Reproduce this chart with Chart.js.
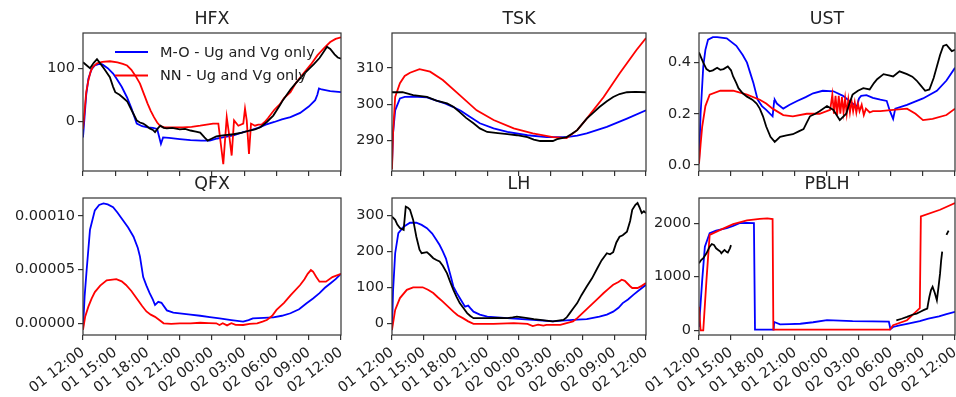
<!DOCTYPE html>
<html>
<head>
<meta charset="utf-8">
<script src="https://cdn.jsdelivr.net/npm/chart.js@4"></script>
<style>
  html, body { margin: 0; padding: 0; background: #fff; }
  #wrap { position: relative; width: 956px; height: 397px; overflow: hidden; }
  #wrap canvas { position: absolute; left: 0; top: 0; }
</style>
</head>
<body>
<div id="wrap"></div>
<script>
// time axis: hours after 01 12:00
const X_TICKS = [0, 3, 6, 9, 12, 15, 18, 21, 24];
const X_LABELS = ['01 12:00', '01 15:00', '01 18:00', '01 21:00', '02 00:00', '02 03:00', '02 06:00', '02 09:00', '02 12:00'];

// each series is [hour, value]
const HFX_MO = [[0,-30],[0.15,10],[0.3,50],[0.5,80],[0.8,98],[1.1,105],[1.5,108],[1.8,107],[2.3,100],[2.8,90],[3.1,81],[3.6,65],[4.1,45],[4.5,25],[5.0,-4],[5.5,-9],[6.0,-11],[6.5,-12],[6.9,-14],[7.1,-30],[7.25,-42],[7.45,-30],[8.0,-31],[9.0,-33],[10.0,-35],[11.0,-36],[11.8,-36],[12.5,-32],[13.0,-30],[14.0,-26],[14.9,-20],[15.5,-17],[16.3,-12],[17.0,-6],[17.8,-1],[18.5,4],[19.3,8],[20.2,16],[21.0,28],[21.6,40],[21.8,50],[21.95,62],[22.2,60],[23.0,57],[24,55]];
const HFX_NN = [[0,-14],[0.15,20],[0.3,55],[0.5,77],[0.7,93],[0.9,102],[1.3,109],[1.8,112],[2.5,113],[3.2,111],[3.7,108],[4.1,105],[4.5,97],[4.9,85],[5.3,71],[5.6,55],[6.0,34],[6.3,20],[6.6,8],[6.9,-2],[7.2,-9],[7.6,-11],[8.5,-11],[9.3,-11],[10.1,-10],[10.9,-8],[11.5,-6],[12.1,-4],[12.59,-4],[13.05,-80],[13.37,8],[13.58,-23],[13.83,-64],[14.05,2],[14.45,-8],[14.91,-4],[15.07,24],[15.23,2],[15.44,-61],[15.63,-4],[16.0,-8],[16.3,-6],[16.6,-6],[16.9,-1],[17.2,6],[17.5,14],[17.8,22],[18.3,32],[18.7,44],[19.3,55],[19.8,72],[20.5,90],[21.2,107],[21.8,124],[22.4,137],[23.0,149],[23.5,155],[24,158]];
const HFX_OBS = [[0,111],[0.3,106],[0.65,100],[1.0,110],[1.3,117],[1.6,109],[2.0,98],[2.5,83],[2.8,65],[3.0,55],[3.4,50],[3.7,45],[4.1,38],[4.4,26],[4.7,14],[5.0,2],[5.3,-2],[5.6,-4],[5.9,-8],[6.2,-13],[6.5,-16],[6.7,-20],[7.0,-12],[7.2,-8],[7.5,-12],[7.8,-13],[8.3,-12],[9.0,-15],[9.5,-14],[10.0,-17],[10.5,-19],[10.9,-21],[11.3,-30],[11.6,-36],[11.9,-33],[12.4,-28],[13.0,-26],[14.0,-24],[14.8,-21],[15.5,-17],[16.0,-15],[16.5,-11],[17.1,-1],[17.7,11],[18.3,30],[18.6,40],[19.3,60],[19.8,72],[20.2,81],[20.7,92],[21.1,100],[21.5,108],[22.0,119],[22.3,128],[22.7,140],[23.0,136],[23.4,126],[23.7,120],[24,118]];
const HFX_RANGE = [-93, 166];
const HFX_TICKS = [0, 100];
const HFX_TICK_LABELS = ['0', '100'];

const TSK_MO = [[0,283],[0.1,292],[0.3,298.3],[0.75,301.6],[1.2,302],[2,302.1],[3.3,301.9],[4.2,301],[5,300.2],[5.8,299.2],[6.5,298.2],[7.1,297],[8.3,294.7],[9.6,293.3],[10.9,292.3],[12.8,291.4],[14.6,290.9],[16.5,290.9],[17.5,291.3],[18.4,291.9],[20.3,293.7],[22.2,296],[24,298.3]];
const TSK_NN = [[0,282],[0.1,292],[0.3,302],[0.75,305.8],[1.2,307.8],[1.7,308.7],[2.6,309.7],[3.6,309],[4.8,306.7],[6.4,302.5],[8,298.3],[9.6,295.6],[11.5,293.3],[13.3,291.9],[15.2,290.9],[16.5,290.6],[17.5,292.8],[18.4,296],[20,302],[21.5,308.5],[23.1,315],[24,318.3]];
const TSK_OBS = [[0,303.3],[1,303.3],[2,302.5],[3.3,302],[4.2,301],[5.2,300.2],[5.8,299.3],[6.4,297.8],[7.0,296.2],[7.7,294.7],[8.3,293.3],[9,292.3],[10,292],[10.9,291.7],[11.8,291.4],[12.8,290.9],[13.4,290.2],[14,289.8],[14.6,289.8],[15.2,289.8],[15.6,290.3],[16.5,290.9],[17.0,291.8],[17.5,292.8],[18.4,296],[19,297.6],[19.6,299.2],[20.3,300.8],[20.9,302],[21.5,302.8],[22.2,303.3],[23,303.4],[24,303.3]];
const TSK_RANGE = [281.5, 319.7];
const TSK_TICKS = [290, 300, 310];
const TSK_TICK_LABELS = ['290', '300', '310'];

const UST_MO = [[0,0.005],[0.15,0.2],[0.4,0.385],[0.6,0.45],[0.85,0.49],[1.3,0.5],[1.7,0.5],[2.6,0.495],[3.5,0.466],[4.1,0.43],[4.5,0.40],[4.8,0.36],[5.1,0.32],[5.5,0.255],[5.9,0.23],[6.3,0.215],[6.9,0.19],[7.05,0.25],[7.1,0.255],[7.3,0.24],[7.9,0.22],[8.5,0.235],[9.2,0.25],[10.0,0.265],[10.7,0.28],[11.6,0.29],[12.6,0.288],[13.5,0.27],[14.4,0.24],[14.8,0.228],[15.0,0.26],[15.2,0.27],[15.7,0.273],[16.3,0.262],[17.0,0.255],[17.6,0.25],[17.9,0.21],[18.2,0.18],[18.4,0.22],[19.5,0.235],[21,0.26],[22.3,0.29],[23.2,0.33],[24,0.38]];
const UST_NN = [[0,0.005],[0.15,0.08],[0.3,0.15],[0.6,0.23],[1,0.275],[2,0.29],[3.2,0.29],[4.5,0.275],[5.7,0.255],[6.3,0.24],[6.9,0.22],[7.9,0.195],[8.8,0.19],[10.1,0.20],[11.3,0.20],[12.3,0.215],[12.5,0.275],[12.65,0.2],[12.8,0.27],[12.95,0.195],[13.1,0.27],[13.25,0.2],[13.4,0.265],[13.55,0.205],[13.7,0.26],[13.85,0.2],[14.0,0.255],[14.15,0.205],[14.3,0.25],[14.45,0.21],[14.6,0.245],[14.75,0.205],[14.9,0.24],[15.05,0.21],[15.25,0.235],[15.45,0.195],[15.65,0.22],[16.0,0.205],[16.3,0.21],[17,0.21],[18.2,0.215],[19.5,0.22],[20.3,0.2],[21,0.175],[21.9,0.18],[23.2,0.195],[24,0.22]];
const UST_OBS = [[0,0.44],[0.2,0.42],[0.4,0.40],[0.7,0.375],[1,0.366],[1.3,0.37],[1.7,0.38],[2.0,0.372],[2.3,0.375],[2.7,0.385],[3.0,0.37],[3.2,0.346],[3.5,0.32],[3.7,0.30],[4.1,0.28],[4.5,0.267],[5.0,0.255],[5.4,0.24],[5.7,0.22],[6,0.19],[6.3,0.15],[6.7,0.11],[7.1,0.09],[7.6,0.11],[8.2,0.115],[8.8,0.12],[9.3,0.13],[9.8,0.14],[10.1,0.165],[10.4,0.19],[10.9,0.2],[11.3,0.21],[12,0.23],[12.6,0.215],[13.2,0.175],[13.8,0.2],[14.1,0.24],[14.4,0.275],[14.9,0.29],[15.4,0.30],[16,0.295],[16.4,0.32],[16.7,0.335],[17.3,0.355],[17.8,0.35],[18.2,0.346],[18.8,0.366],[19.5,0.355],[20,0.345],[20.4,0.33],[20.8,0.31],[21.2,0.29],[21.6,0.295],[22.0,0.34],[22.3,0.385],[22.6,0.43],[22.9,0.465],[23.2,0.47],[23.5,0.455],[23.7,0.445],[24,0.45]];
const UST_RANGE = [-0.024, 0.516];
const UST_TICKS = [0, 0.2, 0.4];
const UST_TICK_LABELS = ['0.0', '0.2', '0.4'];

// QFX series, ticks and range are in units of 1e-5
const QFX_MO = [[0,-0.56],[0.15,2.5],[0.34,4.95],[0.65,8.7],[1.1,10.5],[1.5,11.0],[1.9,11.15],[2.3,11.05],[2.8,10.8],[3.2,10.3],[3.7,9.6],[4.2,8.9],[4.7,8.05],[5.1,7.0],[5.3,6.2],[5.6,4.3],[5.9,3.5],[6.2,2.8],[6.5,2.2],[6.7,1.7],[6.9,1.9],[7.0,2.0],[7.3,1.9],[7.8,1.2],[8.4,1.0],[9,0.93],[10,0.8],[10.9,0.7],[11.8,0.58],[12.7,0.46],[13.8,0.3],[14.9,0.15],[15.4,0.3],[15.8,0.46],[16.8,0.5],[17.7,0.55],[18.5,0.7],[19.3,0.93],[20.1,1.3],[20.8,1.86],[21.4,2.3],[22,2.8],[22.5,3.3],[23,3.7],[23.5,4.1],[24,4.6]];
const QFX_NN = [[0,-0.6],[0.2,0.6],[0.5,1.55],[0.8,2.3],[1.1,2.9],[1.6,3.5],[2.2,4.0],[3.1,4.1],[3.6,3.9],[4,3.56],[4.5,3.0],[5,2.3],[5.5,1.6],[5.9,1.1],[6.3,0.8],[6.7,0.6],[7.1,0.3],[7.5,0],[8.2,-0.05],[9,0],[10,0],[10.9,0.05],[11.7,0.02],[12.4,0],[12.7,-0.16],[13,0],[13.4,-0.2],[13.8,0],[14.2,-0.15],[14.9,-0.16],[15.5,-0.05],[16.2,0],[16.7,0.15],[17.1,0.3],[17.6,0.7],[18,1.24],[18.7,1.9],[19.3,2.6],[20.2,3.56],[20.6,4.1],[20.9,4.6],[21.2,4.95],[21.4,4.8],[21.7,4.3],[22,3.87],[22.6,3.87],[23.2,4.3],[24,4.6]];
const QFX_OBS = [];
const QFX_RANGE = [-1.09, 11.65];
const QFX_TICKS = [0, 5, 10];
const QFX_TICK_LABELS = ['0.00000', '0.00005', '0.00010'];

const LH_MO = [[0,-20],[0.1,90],[0.3,195],[0.6,251],[1.1,269],[1.7,280],[2.3,280],[2.8,274],[3.3,265],[3.8,250],[4.2,232],[4.5,218],[4.8,200],[5.1,180],[5.3,158],[5.6,125],[5.8,102],[6.1,85],[6.4,70],[6.9,46],[7.2,49],[7.4,42],[7.7,32],[8.3,24],[9,18],[10.9,14],[13.3,9],[15.2,5],[17.1,9],[18.4,11],[19.6,18],[20.3,24],[20.9,32],[21.4,43],[21.8,56],[22.3,66],[22.8,79],[23.4,93],[24,107]];
const LH_NN = [[0,-19],[0.3,37],[0.75,70],[1.4,93],[2,100],[2.9,100],[3.4,93],[3.9,84],[4.3,73],[4.8,60],[5.3,46],[5.8,32],[6.2,22],[6.7,14],[7.2,5],[7.7,-2],[8.6,-2],[9.6,-2],[11.5,0],[12.8,-2],[13.3,-8],[13.8,-4],[14.3,-7],[14.6,-5],[15.2,-5],[15.9,-5],[16.5,0],[17.1,5],[17.5,14],[18,28],[18.5,42],[19,56],[19.5,70],[20,84],[20.5,97],[20.9,107],[21.4,115],[21.7,121],[22.0,118],[22.2,112],[22.5,103],[22.7,98],[23.2,98],[23.6,104],[24,112]];
const LH_OBS = [[0,297],[0.3,288],[0.5,275],[0.75,265],[1.1,260],[1.3,325],[1.5,322],[1.7,316],[2,288],[2.3,241],[2.6,205],[2.8,195],[3.3,198],[3.6,190],[3.9,181],[4.2,176],[4.5,172],[4.8,160],[5.2,139],[5.5,115],[5.8,93],[6.1,73],[6.4,56],[6.8,40],[7.1,28],[7.4,20],[7.7,14],[8.5,14],[9,14],[10,15],[10.9,14],[11.4,16],[11.8,18],[12.3,16],[12.8,14],[13.4,11],[14,9],[14.6,7],[15.2,5],[15.7,7],[16.2,9],[16.5,16],[16.8,28],[17.1,40],[17.5,56],[17.9,78],[18.4,102],[18.9,125],[19.4,153],[19.8,175],[20.3,195],[20.6,192],[20.9,198],[21.2,225],[21.5,241],[21.8,245],[22.2,255],[22.5,285],[22.7,316],[23.0,330],[23.2,335],[23.4,322],[23.6,307],[23.8,312],[24,307]];
const LH_RANGE = [-33, 349];
const LH_TICKS = [0, 100, 200, 300];
const LH_TICK_LABELS = ['0', '100', '200', '300'];

const PBLH_MO = [[0,62],[0.15,500],[0.3,937],[0.55,1562],[1,1812],[1.6,1860],[2.6,1906],[3.2,1950],[3.8,2000],[4.5,2005],[5.15,2000],[5.25,13],[6,13],[7.0,13],[7.05,156],[7.6,112],[8.5,115],[9.5,122],[10.7,150],[12,190],[13.2,180],[14.4,170],[16.3,165],[17.8,160],[17.95,20],[18.2,62],[18.8,90],[19.5,120],[20.7,170],[21.5,219],[22.5,260],[23.2,300],[24,344]];
const PBLH_NN = [[0,437],[0.15,0],[0.4,0],[0.7,937],[1,1781],[2,1875],[3.2,1981],[4.5,2050],[5.7,2081],[6.4,2090],[6.9,2075],[6.97,13],[8,13],[10,13],[12,13],[14,13],[16,13],[17.9,13],[18.2,94],[19.5,187],[20.5,375],[20.7,412],[20.8,2125],[22.6,2250],[24,2375]];
const PBLH_OBS = [[0,1250],[0.2,1310],[0.4,1344],[0.7,1437],[1,1560],[1.2,1610],[1.4,1594],[1.6,1530],[1.8,1500],[2.0,1470],[2.1,1437],[2.3,1480],[2.4,1500],[2.6,1460],[2.7,1450],[2.9,1530],[3.0,1590],[3.1,null],[18.5,187],[19,215],[19.5,250],[20,290],[20.4,312],[20.8,350],[21.1,380],[21.4,406],[21.5,520],[21.6,625],[21.75,750],[21.9,812],[22.1,700],[22.3,562],[22.45,800],[22.6,1062],[22.7,1300],[22.8,1469],[23.0,null],[23.2,1781],[23.4,1862]];
const PBLH_RANGE = [-88, 2469];
const PBLH_TICKS = [0, 1000, 2000];
const PBLH_TICK_LABELS = ['0', '1000', '2000'];

const FONT = 'DejaVu Sans';
const TEXT_COLOR = '#222';
const AXIS_COLOR = '#333';
const W = 956, H = 397;

// area = [left, top, right, bottom] of each plot box
const panels = [
  { title: 'HFX', mo: HFX_MO, nn: HFX_NN, obs: HFX_OBS, range: HFX_RANGE, ticks: HFX_TICKS, labels: HFX_TICK_LABELS, area: [83, 33, 341, 171], xLabels: false, legend: true },
  { title: 'TSK', mo: TSK_MO, nn: TSK_NN, obs: TSK_OBS, range: TSK_RANGE, ticks: TSK_TICKS, labels: TSK_TICK_LABELS, area: [392, 33, 646, 171], xLabels: false },
  { title: 'UST', mo: UST_MO, nn: UST_NN, obs: UST_OBS, range: UST_RANGE, ticks: UST_TICKS, labels: UST_TICK_LABELS, area: [699, 33, 955, 171], xLabels: false },
  { title: 'QFX', mo: QFX_MO, nn: QFX_NN, obs: QFX_OBS, range: QFX_RANGE, ticks: QFX_TICKS, labels: QFX_TICK_LABELS, area: [83, 198, 341, 335], xLabels: true },
  { title: 'LH', mo: LH_MO, nn: LH_NN, obs: LH_OBS, range: LH_RANGE, ticks: LH_TICKS, labels: LH_TICK_LABELS, area: [392, 198, 646, 335], xLabels: true },
  { title: 'PBLH', mo: PBLH_MO, nn: PBLH_NN, obs: PBLH_OBS, range: PBLH_RANGE, ticks: PBLH_TICKS, labels: PBLH_TICK_LABELS, area: [699, 198, 955, 335], xLabels: true }
];

const pts = arr => arr.map(([x, y]) => ({ x, y }));

// box frame, title and the in-axes legend
const panelFrame = {
  id: 'panelFrame',
  afterDatasetsDraw(chart, args, opts) {
    const { ctx, chartArea: a } = chart;
    ctx.save();
    ctx.strokeStyle = AXIS_COLOR;
    ctx.lineWidth = 1.2;
    ctx.strokeRect(a.left, a.top, a.right - a.left, a.bottom - a.top);
    ctx.fillStyle = TEXT_COLOR;
    ctx.font = `17.4px "${FONT}"`;
    ctx.textAlign = 'center';
    ctx.textBaseline = 'middle';
    ctx.fillText(opts.title, (a.left + a.right) / 2, a.top - 13.4);
    if (opts.legend) {
      ctx.font = `14.5px "${FONT}"`;
      ctx.textAlign = 'left';
      chart.data.datasets.filter(d => d.label).forEach((d, i) => {
        const y = a.top + 19 + i * 23.5;
        ctx.strokeStyle = d.borderColor;
        ctx.lineWidth = 1.8;
        ctx.beginPath();
        ctx.moveTo(a.left + 32, y);
        ctx.lineTo(a.left + 65, y);
        ctx.stroke();
        ctx.fillText(d.label, a.left + 77, y + 1);
      });
    }
    ctx.restore();
  }
};

const wrap = document.getElementById('wrap');
panels.forEach(p => {
  const cv = document.createElement('canvas');
  cv.width = W;
  cv.height = H;
  wrap.appendChild(cv);
  const [L, T, R, B] = p.area;
  const yW = 75;
  const xH = p.xLabels ? 60 : 5;
  const grid = { drawOnChartArea: false, drawTicks: true, tickLength: 5, color: AXIS_COLOR, lineWidth: 1.2 };
  const tickFont = { family: FONT, size: 14.5 };
  new Chart(cv, {
    type: 'line',
    data: {
      datasets: [
        { label: 'M-O - Ug and Vg only', data: pts(p.mo), borderColor: '#0000ff', order: 2 },
        { label: 'NN - Ug and Vg only', data: pts(p.nn), borderColor: '#ff0000', order: 1 },
        { label: '', data: pts(p.obs), borderColor: '#000000', order: 0 }
      ]
    },
    options: {
      responsive: false,
      animation: false,
      devicePixelRatio: 1,
      layout: { padding: { left: L - yW, top: T, right: W - R, bottom: H - B - xH } },
      elements: { point: { radius: 0 }, line: { borderWidth: 1.8, tension: 0, fill: false } },
      plugins: {
        legend: { display: false },
        tooltip: { enabled: false },
        panelFrame: { title: p.title, legend: !!p.legend }
      },
      scales: {
        x: {
          type: 'linear', min: 0, max: 24,
          afterBuildTicks: s => { s.ticks = X_TICKS.map(v => ({ value: v })); },
          afterFit: s => { s.height = xH; s.paddingLeft = 0; s.paddingRight = 0; },
          border: { display: false },
          grid,
          ticks: {
            display: p.xLabels, autoSkip: false, minRotation: 37, maxRotation: 37, padding: 4,
            color: TEXT_COLOR, font: tickFont,
            callback: v => X_LABELS[X_TICKS.indexOf(v)]
          }
        },
        y: {
          type: 'linear', min: p.range[0], max: p.range[1],
          afterBuildTicks: s => { s.ticks = p.ticks.map(v => ({ value: v })); },
          afterFit: s => { s.width = yW; s.paddingTop = 0; s.paddingBottom = 0; },
          border: { display: false },
          grid,
          ticks: {
            padding: 3, color: TEXT_COLOR, font: tickFont,
            callback: v => p.labels[p.ticks.indexOf(v)]
          }
        }
      }
    },
    plugins: [panelFrame]
  });
});
</script>
</body>
</html>
